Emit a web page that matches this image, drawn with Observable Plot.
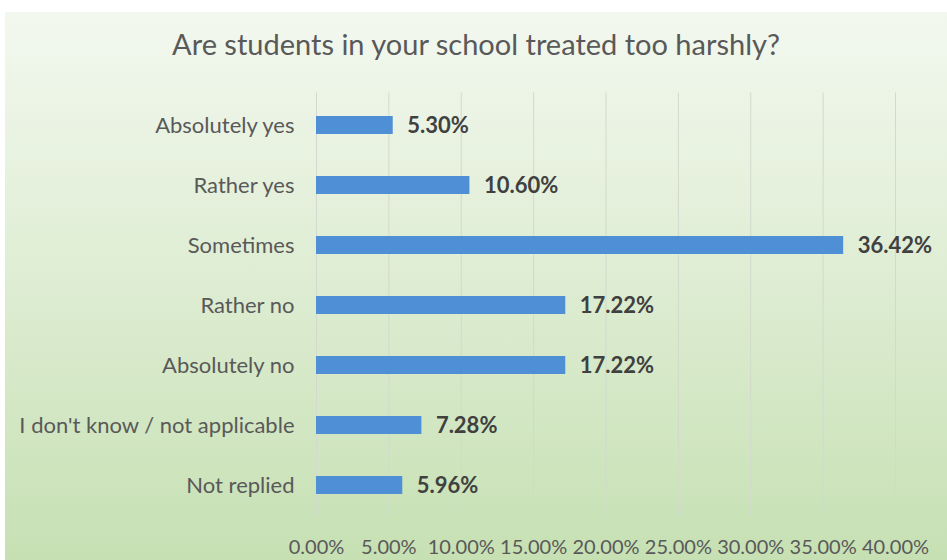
<!DOCTYPE html>
<html>
<head>
<meta charset="utf-8">
<script src="https://cdn.jsdelivr.net/npm/d3@7"></script>
<script src="https://cdn.jsdelivr.net/npm/@observablehq/plot@0.6"></script>
<style>
  html, body { margin: 0; padding: 0; background: #ffffff; }
  #frame {
    position: absolute; left: 5px; top: 12px; width: 942px; height: 548px;
    background: linear-gradient(to bottom, #f3f8ef 0%, #e2efd8 40%, #c6e0b3 100%);
    overflow: hidden;
  }
  #title {
    height: 68px; line-height: 64px; text-align: center;
    font-family: Lato, "Open Sans", sans-serif; font-size: 29px; color: #595959;
  }
  svg { display: block; background: transparent !important; }
</style>
</head>
<body>
<div id="frame">
  <div id="title">Are students in your school treated too harshly?</div>
  <div id="chart"></div>
</div>
<script>
const categories = ["Absolutely yes", "Rather yes", "Sometimes", "Rather no", "Absolutely no", "I don't know / not applicable", "Not replied"];
const values = [5.30, 10.60, 36.42, 17.22, 17.22, 7.28, 5.96];
const xTicks = [0, 5, 10, 15, 20, 25, 30, 35, 40];

const data = categories.map((c, i) => ({category: c, value: values[i]}));
const fmt = d => d.toFixed(2) + "%";

const chart = Plot.plot({
  width: 942,
  height: 480,
  marginLeft: 311,
  marginRight: 52,
  marginTop: 12.5,
  marginBottom: 43.5,
  style: {background: "transparent", fontFamily: "Lato, 'Open Sans', sans-serif"},
  x: {domain: [0, 40], ticks: xTicks, tickFormat: fmt, label: null},
  y: {domain: categories, paddingInner: 0.7, paddingOuter: 0.35, label: null},
  marks: [
    Plot.gridX(xTicks, {stroke: "#d2d9ce", strokeOpacity: 1, strokeWidth: 1}),
    Plot.barX(data, {x: "value", y: "category", fill: "#4f8fd6"}),
    Plot.text(data, {x: "value", y: "category", text: d => fmt(d.value), textAnchor: "start", dx: 14, fontWeight: "bold", fontSize: 22, fill: "#404040"}),
    Plot.axisY({tickSize: 0, tickPadding: 22, fontSize: 22, color: "#595959", label: null}),
    Plot.axisX(xTicks, {tickSize: 0, tickPadding: 23, fontSize: 20, color: "#595959", label: null, tickFormat: fmt})
  ]
});
document.getElementById("chart").appendChild(chart);
</script>
</body>
</html>
